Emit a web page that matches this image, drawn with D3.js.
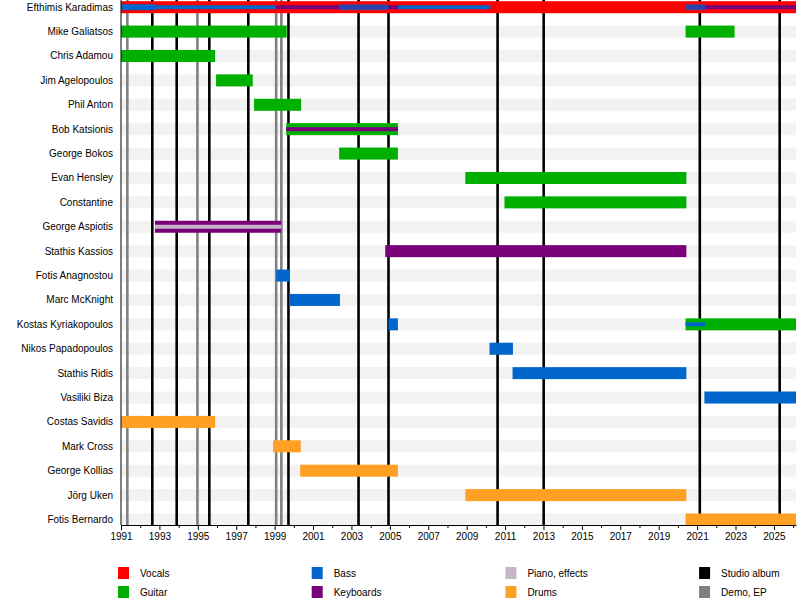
<!DOCTYPE html>
<html>
<head>
<meta charset="utf-8">
<script src="https://cdn.jsdelivr.net/npm/d3@7"></script>
<style>
  html, body { margin: 0; padding: 0; background: #fff; }
  svg { display: block; font-family: "Liberation Sans", Arial, sans-serif; }
</style>
</head>
<body>
<div id="chart"></div>
<script>
/* ── Data ─────────────────────────────────────────────────────────── */
const MEMBERS = [
  'Efthimis Karadimas', 'Mike Galiatsos', 'Chris Adamou', 'Jim Agelopoulos',
  'Phil Anton', 'Bob Katsionis', 'George Bokos', 'Evan Hensley', 'Constantine',
  'George Aspiotis', 'Stathis Kassios', 'Fotis Anagnostou', 'Marc McKnight',
  'Kostas Kyriakopoulos', 'Nikos Papadopoulos', 'Stathis Ridis', 'Vasiliki Biza',
  'Costas Savidis', 'Mark Cross', 'George Kollias', 'Jörg Uken', 'Fotis Bernardo'
];

const START = 1991;
const END   = 2026.15;

const ROLES = ['Vocals', 'Guitar', 'Bass', 'Keyboards', 'Piano, effects', 'Drums'];

// [member, role, from, till] — primary instrument (full bar)
const MAIN_PERIODS = [
  ['Efthimis Karadimas',   'Vocals',    1991,    END],
  ['Mike Galiatsos',       'Guitar',    1991,    1999.63],
  ['Mike Galiatsos',       'Guitar',    2020.40, 2022.95],
  ['Chris Adamou',         'Guitar',    1991,    1995.90],
  ['Jim Agelopoulos',      'Guitar',    1995.95, 1997.86],
  ['Phil Anton',           'Guitar',    1997.93, 2000.38],
  ['Bob Katsionis',        'Guitar',    1999.60, 2005.42],
  ['George Bokos',         'Guitar',    2002.36, 2005.42],
  ['Evan Hensley',         'Guitar',    2008.93, 2020.44],
  ['Constantine',          'Guitar',    2010.97, 2020.44],
  ['George Aspiotis',      'Keyboards', 1992.77, 1999.34],
  ['Stathis Kassios',      'Keyboards', 2004.76, 2020.44],
  ['Fotis Anagnostou',     'Bass',      1999.08, 1999.80],
  ['Marc McKnight',        'Bass',      1999.75, 2002.40],
  ['Kostas Kyriakopoulos', 'Bass',      2004.93, 2005.42],
  ['Kostas Kyriakopoulos', 'Guitar',    2020.40, END],
  ['Nikos Papadopoulos',   'Bass',      2010.19, 2011.41],
  ['Stathis Ridis',        'Bass',      2011.39, 2020.44],
  ['Vasiliki Biza',        'Bass',      2021.38, END],
  ['Costas Savidis',       'Drums',     1991,    1995.90],
  ['Mark Cross',           'Drums',     1998.92, 2000.36],
  ['George Kollias',       'Drums',     2000.33, 2005.42],
  ['Jörg Uken',            'Drums',     2008.93, 2020.44],
  ['Fotis Bernardo',       'Drums',     2020.40, END]
];

// secondary instrument (half bar)
const SECOND_PERIODS = [
  ['Efthimis Karadimas', 'Bass', 1991,    1992.81],
  ['Efthimis Karadimas', 'Bass', 2002.35, 2004.93],
  ['Efthimis Karadimas', 'Bass', 2020.40, 2021.44]
];

// tertiary instrument (thin bar)
const THIRD_PERIODS = [
  ['Efthimis Karadimas',   'Bass',           1992.81, 1999.08],
  ['Efthimis Karadimas',   'Keyboards',      1999.08, 2005.42],
  ['Efthimis Karadimas',   'Bass',           2005.42, 2010.23],
  ['Efthimis Karadimas',   'Keyboards',      2020.40, END],
  ['Bob Katsionis',        'Keyboards',      1999.60, 2005.42],
  ['George Aspiotis',      'Piano, effects', 1992.77, 1999.34],
  ['Kostas Kyriakopoulos', 'Bass',           2020.40, 2021.44]
];

const STUDIO_ALBUMS = [1992.63, 1993.90, 1995.60, 1997.63, 1999.72, 2003.37,
                       2004.93, 2010.61, 2013.01, 2021.14, 2025.30];
const DEMOS_EPS     = [1991.33, 1994.98, 1999.08, 1999.35];

const TICK_YEARS = d3.range(1991, 2027);

/* ── Styles ───────────────────────────────────────────────────────── */
const ROLE_COLOR = {
  'Vocals':         '#ff0000',
  'Guitar':         '#00b000',
  'Bass':           '#0066cc',
  'Keyboards':      '#7a007a',
  'Piano, effects': '#c9b3c9',
  'Drums':          '#ffa024'
};
const LINE_COLOR = { album: '#000000', demo: '#808080' };

function drawChart() {
  const W = 800, H = 605;
  const plot = { left: 121, right: 796, top: 0, bottom: 525 };

  const svg = d3.select('#chart').append('svg')
    .attr('width', W).attr('height', H)
    .attr('viewBox', `0 0 ${W} ${H}`);

  /* ── Scales ─────────────────────────────────────────────────────── */
  const x = d3.scaleLinear().domain([START, END]).range([plot.left, plot.right]);
  const y = d3.scalePoint().domain(MEMBERS).range([7.2, 519.5]);

  const barH = { main: 12, second: 6, third: 4 };

  /* ── Background stripes ─────────────────────────────────────────── */
  svg.append('g').selectAll('rect')
    .data(MEMBERS).join('rect')
    .attr('x', plot.left).attr('width', plot.right - plot.left)
    .attr('y', d => y(d) - barH.main / 2).attr('height', barH.main)
    .attr('fill', '#f2f2f2');

  /* ── Release lines ──────────────────────────────────────────────── */
  const lines = [
    ...DEMOS_EPS.map(v => ({ v, kind: 'demo' })),
    ...STUDIO_ALBUMS.map(v => ({ v, kind: 'album' }))
  ];
  svg.append('g').selectAll('line')
    .data(lines).join('line')
    .attr('x1', d => x(d.v)).attr('x2', d => x(d.v))
    .attr('y1', plot.top).attr('y2', plot.bottom)
    .attr('stroke', d => LINE_COLOR[d.kind])
    .attr('stroke-width', 2.6);

  /* ── Bars ───────────────────────────────────────────────────────── */
  const layer = (rows, h, opacity) => svg.append('g').selectAll('rect')
    .data(rows).join('rect')
    .attr('x', d => x(d[2]))
    .attr('width', d => x(d[3]) - x(d[2]))
    .attr('y', d => y(d[0]) - h / 2)
    .attr('height', h)
    .attr('fill', d => ROLE_COLOR[d[1]])
    .attr('opacity', opacity);

  // a half bar that sits over a thin bar of the same member is blended with it
  const overlapsThin = d => THIRD_PERIODS.some(t =>
    t[0] === d[0] && t[2] < d[3] && t[3] > d[2]);

  layer(MAIN_PERIODS, barH.main, 1);
  layer(THIRD_PERIODS, barH.third, 1);
  layer(SECOND_PERIODS, barH.second, d => overlapsThin(d) ? 0.65 : 1);

  /* ── Axes ───────────────────────────────────────────────────────── */
  const axis = svg.append('g')
    .attr('transform', `translate(0,${plot.bottom})`)
    .call(d3.axisBottom(x)
      .tickValues(TICK_YEARS)
      .tickFormat(d => (d - 1991) % 2 === 0 ? d : '')
      .tickSize(5)
      .tickSizeOuter(0));
  axis.select('.domain').attr('stroke', '#000');
  axis.selectAll('line').attr('stroke', '#000');
  axis.selectAll('.tick')
    .filter(d => (d - 1991) % 2 !== 0)
    .select('line').attr('y2', 3);
  axis.selectAll('text')
    .attr('fill', '#000')
    .attr('font-size', '10px')
    .attr('font-family', '"Liberation Sans", Arial, sans-serif')
    .attr('y', 8);

  svg.append('line')
    .attr('x1', plot.left).attr('x2', plot.left)
    .attr('y1', plot.top).attr('y2', plot.bottom)
    .attr('stroke', '#000').attr('stroke-width', 1);

  /* ── Member labels ──────────────────────────────────────────────── */
  svg.append('g').selectAll('text')
    .data(MEMBERS).join('text')
    .attr('x', 113)
    .attr('y', d => y(d))
    .attr('dy', '0.35em')
    .attr('text-anchor', 'end')
    .attr('font-size', '10px')
    .attr('fill', '#000')
    .text(d => d);

  /* ── Legend ─────────────────────────────────────────────────────── */
  const legendItems = [
    ...ROLES.map(r => ({ label: r, color: ROLE_COLOR[r] })),
    { label: 'Studio album', color: LINE_COLOR.album },
    { label: 'Demo, EP',     color: LINE_COLOR.demo }
  ];
  const lg = svg.append('g').selectAll('g')
    .data(legendItems).join('g')
    .attr('transform', (d, i) =>
      `translate(${118 + Math.floor(i / 2) * 193.7},${567 + (i % 2) * 19})`);
  lg.append('rect')
    .attr('width', 11).attr('height', 12)
    .attr('fill', d => d.color);
  lg.append('text')
    .attr('x', 22).attr('y', 6).attr('dy', '0.35em')
    .attr('font-size', '10px')
    .attr('fill', '#000')
    .text(d => d.label);
}

drawChart();
</script>
</body>
</html>
